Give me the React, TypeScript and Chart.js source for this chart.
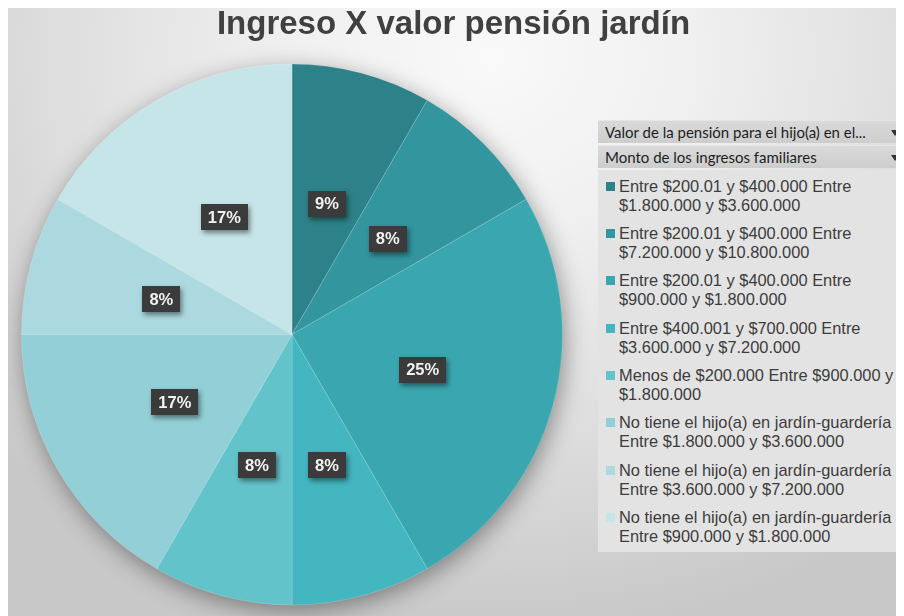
import React, { useEffect, useRef } from "react";
import { Chart, registerables } from "chart.js";

Chart.register(...registerables);

const chartTitle = "Ingreso X valor pensión jardín";
const fieldButtons = [
  "Valor de la pensión para el hijo(a) en el...",
  "Monto de los ingresos familiares",
];
const categories = [
  "Entre $200.01 y $400.000 Entre $1.800.000 y $3.600.000",
  "Entre $200.01 y $400.000 Entre $7.200.000 y $10.800.000",
  "Entre $200.01 y $400.000 Entre $900.000 y $1.800.000",
  "Entre $400.001 y $700.000 Entre $3.600.000 y $7.200.000",
  "Menos de $200.000 Entre $900.000 y $1.800.000",
  "No tiene el hijo(a) en jardín-guardería Entre $1.800.000 y $3.600.000",
  "No tiene el hijo(a) en jardín-guardería Entre $3.600.000 y $7.200.000",
  "No tiene el hijo(a) en jardín-guardería Entre $900.000 y $1.800.000",
];
const counts = [1, 1, 3, 1, 1, 2, 1, 2];
const percentLabels = ["9%", "8%", "25%", "8%", "8%", "17%", "8%", "17%"];
const sliceColors = [
  "#2d8289",
  "#33959d",
  "#3aa7b0",
  "#43b6c0",
  "#63c3ca",
  "#92cfd7",
  "#abd9df",
  "#c6e5e8",
];

const W = 896;
const H = 608;

const pieShadow = {
  id: "pieShadow",
  beforeDatasetsDraw(chart: any) {
    const meta = chart.getDatasetMeta(0);
    const arc = meta.data[0];
    if (!arc) return;
    const { x, y, outerRadius } = arc.getProps(["x", "y", "outerRadius"], true);
    const ctx = chart.ctx;
    ctx.save();
    ctx.shadowColor = "rgba(0,0,0,0.42)";
    ctx.shadowBlur = 24;
    ctx.shadowOffsetX = 2;
    ctx.shadowOffsetY = 6;
    ctx.beginPath();
    ctx.arc(x, y, outerRadius - 1, 0, Math.PI * 2);
    ctx.fillStyle = "#8fc9cf";
    ctx.fill();
    ctx.restore();
  },
};

const dataLabels = {
  id: "dataLabelsBoxes",
  afterDatasetsDraw(chart: any) {
    const meta = chart.getDatasetMeta(0);
    const ctx = chart.ctx;
    ctx.save();
    ctx.font = "bold 16.5px 'Liberation Sans', Arial, sans-serif";
    ctx.textAlign = "center";
    ctx.textBaseline = "middle";
    meta.data.forEach((arc: any, i: number) => {
      const p = arc.tooltipPosition(true);
      const txt = percentLabels[i];
      const tw = ctx.measureText(txt).width;
      const bw = Math.round(tw + 14);
      const bh = 26;
      const bx = Math.round(p.x - bw / 2);
      const by = Math.round(p.y - bh / 2);
      ctx.save();
      ctx.shadowColor = "rgba(0,0,0,0.45)";
      ctx.shadowBlur = 5;
      ctx.shadowOffsetX = 2;
      ctx.shadowOffsetY = 3;
      ctx.fillStyle = "#3b3b3b";
      ctx.fillRect(bx, by, bw, bh);
      ctx.restore();
      ctx.fillStyle = "#f2f2f2";
      ctx.fillText(txt, p.x, p.y + 1);
    });
    ctx.restore();
  },
};

export default function App() {
  const canvasRef = useRef<HTMLCanvasElement | null>(null);

  useEffect(() => {
    document.documentElement.style.overflow = "hidden";
    document.body.style.overflow = "hidden";
    const canvas = canvasRef.current;
    if (!canvas) return;
    const chart = new Chart(canvas, {
      type: "pie",
      data: {
        labels: categories,
        datasets: [
          {
            data: counts,
            backgroundColor: sliceColors,
            borderColor: "rgba(255,255,255,0.18)",
            borderWidth: 1,
          },
        ],
      },
      options: {
        responsive: false,
        animation: false,
        layout: { padding: { left: 13, top: 55, right: 341, bottom: 10 } },
        plugins: {
          legend: { display: false },
          tooltip: { enabled: false },
          title: { display: false },
        },
      },
      plugins: [pieShadow, dataLabels],
    });
    return () => chart.destroy();
  }, []);

  return (
    <div
      style={{
        position: "relative",
        width: W,
        height: H,
        overflow: "hidden",
        background:
          "radial-gradient(ellipse 75% 95% at 54% 8%, #f9f9f9 0%, #f0f0f0 30%, #dedede 65%, #c8c8c8 100%)",
        fontFamily: "'Liberation Sans', Arial, sans-serif",
      }}
    >
      <canvas
        ref={canvasRef}
        width={W}
        height={H}
        style={{ position: "absolute", left: 0, top: 0, width: W, height: H, display: "block" }}
      />
      <div
        style={{
          position: "absolute",
          left: 0,
          top: -2,
          width: 891,
          textAlign: "center",
          fontSize: 33,
          lineHeight: "33px",
          fontWeight: "bold",
          color: "#404040",
          whiteSpace: "nowrap",
        }}
      >
        {chartTitle}
      </div>
      {fieldButtons.map((t, i) => (
        <div
          key={i}
          style={{
            position: "absolute",
            left: 590,
            top: 112 + i * 25,
            width: 306,
            height: 23,
            background: "linear-gradient(#dadada, #cdcdcd)",
            borderTop: "1px solid #e6e6e6",
            boxSizing: "border-box",
            fontFamily: "Lato, 'Open Sans', sans-serif",
            fontSize: 15,
            lineHeight: "22px",
            color: "#1e1e1e",
            paddingLeft: 7,
            whiteSpace: "nowrap",
          }}
        >
          {t}
          <div
            style={{
              position: "absolute",
              right: 5,
              top: 9,
              width: 0,
              height: 0,
              borderLeft: "4.5px solid transparent",
              borderRight: "4.5px solid transparent",
              borderTop: "6px solid #333",
            }}
          />
        </div>
      ))}
      <div
        style={{
          position: "absolute",
          left: 590,
          top: 162,
          width: 306,
          height: 382,
          background: "#e3e3e3",
          paddingTop: 6.5,
          boxSizing: "border-box",
        }}
      >
        {categories.map((c, i) => (
          <div
            key={i}
            style={{ display: "flex", alignItems: "flex-start", marginBottom: 9.4 }}
          >
            <div
              style={{
                width: 9,
                height: 9,
                marginLeft: 7.7,
                marginTop: 5,
                background: sliceColors[i],
                flex: "0 0 auto",
              }}
            />
            <div
              style={{
                marginLeft: 4.3,
                width: 285,
                fontSize: 16.4,
                lineHeight: "19px",
                color: "#3c3c3c",
              }}
            >
              {c}
            </div>
          </div>
        ))}
      </div>
    </div>
  );
}
